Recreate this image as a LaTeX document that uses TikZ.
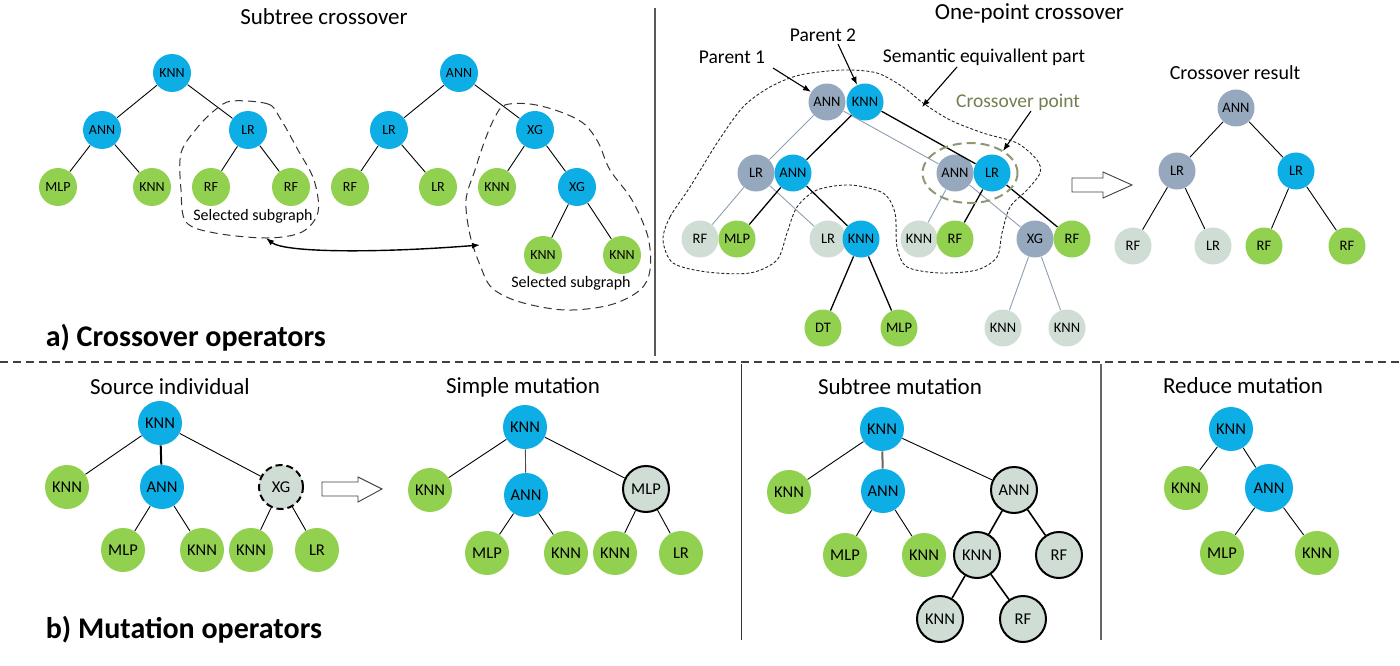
\documentclass[tikz,border=0pt]{standalone}
\usepackage{fontspec}
\setmainfont{Carlito}
\usetikzlibrary{arrows.meta,shapes.geometric}
\definecolor{nblue}{RGB}{13,174,230}
\definecolor{ngreen}{RGB}{146,208,80}
\definecolor{ngray}{RGB}{150,168,190}
\definecolor{nlight}{RGB}{207,221,213}
\definecolor{cpgreen}{RGB}{112,128,78}
\definecolor{p1line}{RGB}{140,158,178}
\tikzset{
    tl/.style={circle,inner sep=0pt,minimum size=38pt,font=\fontsize{14}{14}\selectfont},
    tr/.style={circle,inner sep=0pt,minimum size=37pt,font=\fontsize{14.5}{14.5}\selectfont},
    bt/.style={circle,inner sep=0pt,minimum size=44pt,font=\fontsize{16.5}{16.5}\selectfont},
    blu/.style={fill=nblue},
    grn/.style={fill=ngreen},
    gry/.style={fill=ngray},
    lgt/.style={fill=nlight},
    newnd/.style={fill=nlight,draw=black,line width=2pt,minimum size=46pt},
    ttl/.style={font=\fontsize{23}{23}\selectfont},
    note/.style={font=\fontsize{19.5}{19.5}\selectfont},
    hdr/.style={anchor=west,font=\fontsize{30}{30}\selectfont\bfseries},
    ptr/.style={-{Latex[length=8pt,width=6pt]},line width=1.1pt},
    fatln/.style={draw=black!75,fill=white,line width=0.9pt,line join=miter},
    sel/.style={draw=black!80,line width=1pt,dash pattern=on 8pt off 5pt},
}

\begin{document}
\begin{tikzpicture}[x=1pt,y=-1pt,line width=0.9pt]
\useasboundingbox (0,0) rectangle (1400,666);

%% frames
\draw[black!65,line width=1.4pt] (655,8) -- (655,356);
\draw[black!75,line width=1.2pt,dash pattern=on 8pt off 5pt] (0,362) -- (1400,362);
\draw[black!80,line width=1pt] (741,364) -- (741,640);
\draw[black!60,line width=1.6pt] (1101,364) -- (1101,640);
\node[hdr] (hda) at (42,338) {a) Crossover operators};
\node[hdr] (hdb) at (42,630) {b) Mutation operators};

%% subtree crossover
\node[ttl] (tsub) at (324,17) {Subtree crossover};
\node[tl,blu] (aknn) at (172,73) {KNN};
\node[tl,blu] (aann) at (102,130) {ANN};
\node[tl,blu] (alr) at (248,130) {LR};
\node[tl,grn] (amlp) at (58,187) {MLP};
\node[tl,grn] (aknn2) at (152,187) {KNN};
\node[tl,grn] (arf) at (211,187) {RF};
\node[tl,grn] (arf2) at (291,187) {RF};
\draw (aknn) -- (aann) (aknn) -- (alr) (aann) -- (amlp) (aann) -- (aknn2) (alr) -- (arf) (alr) -- (arf2);

\node[tl,blu] (bann) at (459,73) {ANN};
\node[tl,blu] (blr) at (389,130) {LR};
\node[tl,blu] (bxg) at (535,130) {XG};
\node[tl,grn] (brf) at (350,187) {RF};
\node[tl,grn] (blr2) at (438,187) {LR};
\node[tl,grn] (bknn) at (497,187) {KNN};
\node[tl,blu] (bxg2) at (577,187) {XG};
\node[tl,grn] (bknn2) at (543,255) {KNN};
\node[tl,grn] (bknn3) at (622,255) {KNN};
\draw (bann) -- (blr) (bann) -- (bxg) (blr) -- (brf) (blr) -- (blr2) (bxg) -- (bknn) (bxg) -- (bxg2)
      (bxg2) -- (bknn2) (bxg2) -- (bknn3);

\draw[sel] plot[smooth cycle,tension=0.55] coordinates {(232,101) (268,104) (280,118) (298,150) (314,180)
      (318,212) (302,232) (267,238) (215,233) (186,222) (181,190) (181,153) (197,128) (215,110)};
\draw[sel] plot[smooth cycle,tension=0.55] coordinates {(505,105) (530,104) (558,111) (583,123) (598,142) (610,170)
      (632,200) (648,237) (650,270) (640,290) (610,305) (565,310) (520,302) (492,288) (480,265) (470,235)
      (466,200) (475,170) (485,140) (495,117)};
\node[font=\fontsize{16}{16}\selectfont] (sela) at (253,216) {Selected subgraph};
\node[font=\fontsize{16}{16}\selectfont] (selb) at (571,283) {Selected subgraph};
\coordinate(sa) at (266,238);
\coordinate(sb) at (480,245);
\draw[{Latex[length=8pt,width=6pt]}-{Latex[length=8pt,width=6pt]},line width=1.4pt]
      (sa) .. controls (285,253) and (380,253) .. (sb);

%% one-point crossover
\node[ttl,anchor=west] (tone) at (931,13) {One-point crossover};
\node[note] (par1) at (732,57) {Parent 1};
\node[note] (par2) at (823,35) {Parent 2};
\node[note] (sem) at (984,57) {Semantic equivallent part};
\node[note,text=cpgreen] (cpt) at (1018,102) {Crossover point};

\node[tr,gry] (pann) at (827,102) {ANN};
\node[tr,blu] (pknn) at (865,102) {KNN};
\node[tr,gry] (plr) at (756,173) {LR};
\node[tr,blu] (pann2) at (793,173) {ANN};
\node[tr,gry] (qann) at (955,173) {ANN};
\node[tr,blu] (qlr) at (992,173) {LR};
\node[tr,lgt] (prf) at (700,239) {RF};
\node[tr,grn] (pmlp) at (737,239) {MLP};
\node[tr,lgt] (plr2) at (828,239) {LR};
\node[tr,blu] (pknn2) at (861,239) {KNN};
\node[tr,lgt] (qknn) at (919,239) {KNN};
\node[tr,grn] (qrf) at (955,239) {RF};
\node[tr,gry] (qxg) at (1035,239) {XG};
\node[tr,grn] (qrf2) at (1072,239) {RF};
\node[tr,grn] (pdt) at (823,328) {DT};
\node[tr,grn] (pmlp2) at (899,328) {MLP};
\node[tr,lgt] (qknn2) at (1003,328) {KNN};
\node[tr,lgt] (qknn3) at (1067,328) {KNN};
% parent 1
\draw[p1line,line width=0.9pt] (pann) -- (plr) (pann) -- (qann) (plr) -- (prf) (plr) -- (plr2)
      (qann) -- (qknn) (qann) -- (qxg) (qxg) -- (qknn2) (qxg) -- (qknn3);
% parent 2
\draw[line width=1.3pt] (pknn) -- (pann2) (pknn) -- (qlr) (pann2) -- (pmlp) (pann2) -- (pknn2)
      (pknn2) -- (pdt) (pknn2) -- (pmlp2) (qlr) -- (qrf) (qlr) -- (qrf2);

\node[ellipse,draw=cpgreen!80,line width=2pt,dash pattern=on 9pt off 5pt,minimum width=95pt,minimum height=60pt] (cpring) at (970,173) {};
\draw[black!85,line width=0.9pt,dash pattern=on 3pt off 2pt] plot[smooth cycle,tension=0.5] coordinates {
      (663,240) (670,217) (690,187) (717,143) (743,107) (770,87) (800,75) (843,70) (877,73) (903,87)
      (923,103) (950,120) (983,133) (1017,143) (1037,160) (1040,173) (1027,190) (1010,207) (1002,233)
      (997,257) (977,270) (940,273) (907,267) (897,247) (895,213) (883,193) (850,185) (817,190)
      (797,207) (787,233) (777,260) (750,273) (707,272) (673,263)};

\coordinate(p1s) at (773,68);
\coordinate(p2s) at (838,44);
\coordinate(sms) at (957,67);
\coordinate(sme) at (922,107);
\coordinate(cps) at (1031,111);
\coordinate(cpe) at (1003,151);
\draw[ptr] (p1s) -- (pann);
\draw[ptr] (p2s) -- (pknn);
\draw[ptr] (sms) -- (sme);
\draw[ptr] (cps) -- (cpe);

% hollow arrow
\draw[fatln] (1072,178) -- (1103,178) -- (1103,172) -- (1132,185) -- (1103,198) -- (1103,192) -- (1072,192) -- cycle;

%% crossover result
\node[ttl,font=\fontsize{20}{20}\selectfont] (tres) at (1235,73) {Crossover result};
\node[tr,gry] (rann) at (1236,108) {ANN};
\node[tr,gry] (rlr) at (1177,171) {LR};
\node[tr,blu] (rlr2) at (1296,171) {LR};
\node[tr,lgt] (rrf) at (1133,246) {RF};
\node[tr,lgt] (rlr3) at (1213,246) {LR};
\node[tr,grn] (rrf2) at (1264,246) {RF};
\node[tr,grn] (rrf3) at (1347,246) {RF};
\draw (rann) -- (rlr) (rann) -- (rlr2) (rlr) -- (rrf) (rlr) -- (rlr3) (rlr2) -- (rrf2) (rlr2) -- (rrf3);

%% source individual
\node[ttl] (tsrc) at (170,387) {Source individual};
\node[bt,blu] (sknn) at (160,423) {KNN};
\node[bt,grn] (sknn2) at (67,487) {KNN};
\node[bt,blu] (sann) at (162,487) {ANN};
\node[bt,lgt,draw=black,line width=2pt,dash pattern=on 7pt off 4pt] (sxg) at (281,487) {XG};
\node[bt,grn] (smlp) at (123,550) {MLP};
\node[bt,grn] (sknn3) at (202,550) {KNN};
\node[bt,grn] (sknn4) at (251,550) {KNN};
\node[bt,grn] (slr) at (317,550) {LR};
\draw (sknn) -- (sknn2) (sknn) -- (sxg) (sann) -- (smlp) (sann) -- (sknn3) (sxg) -- (sknn4) (sxg) -- (slr);
\draw[line width=2pt] (sknn) -- (sann);
\draw[fatln] (322,482) -- (358,482) -- (358,477) -- (382,489) -- (358,502) -- (358,496) -- (322,496) -- cycle;

%% simple mutation
\node[ttl] (tsim) at (523,387) {Simple mutation};
\node[bt,blu] (mknn) at (525,427) {KNN};
\node[bt,grn] (mknn2) at (430,490) {KNN};
\node[bt,blu] (mann) at (526,495) {ANN};
\node[bt,newnd] (mmlp) at (646,489) {MLP};
\node[bt,grn] (mmlp2) at (487,553) {MLP};
\node[bt,grn] (mknn3) at (566,553) {KNN};
\node[bt,grn] (mknn4) at (615,553) {KNN};
\node[bt,grn] (mlr) at (681,553) {LR};
\draw (mknn) -- (mknn2) (mknn) -- (mmlp) (mann) -- (mmlp2) (mann) -- (mknn3) (mmlp) -- (mknn4) (mmlp) -- (mlr);
\draw[black!70] (mknn) -- (mann);

%% subtree mutation
\node[ttl] (tstm) at (900,387) {Subtree mutation};
\node[bt,blu] (tknn) at (882,429) {KNN};
\node[bt,grn] (tknn2) at (789,492) {KNN};
\node[bt,blu] (tann) at (883,491) {ANN};
\node[bt,newnd] (tann2) at (1014,490) {ANN};
\node[bt,grn] (tmlp) at (845,555) {MLP};
\node[bt,grn] (tknn3) at (924,555) {KNN};
\node[bt,newnd] (tknn4) at (977,555) {KNN};
\node[bt,newnd] (trf) at (1059,555) {RF};
\node[bt,newnd] (tknn5) at (940,619) {KNN};
\node[bt,newnd] (trf2) at (1023,619) {RF};
\draw (tknn) -- (tknn2) (tknn) -- (tann2) (tann) -- (tmlp) (tann) -- (tknn3);
\draw[black!60,line width=2pt] (tknn) -- (tann);
\draw[line width=1.6pt] (tann2) -- (tknn4) (tann2) -- (trf) (tknn4) -- (tknn5) (tknn4) -- (trf2);

%% reduce mutation
\node[ttl] (tred) at (1243,386) {Reduce mutation};
\node[bt,blu] (uknn) at (1231,429) {KNN};
\node[bt,grn] (uknn2) at (1186,488) {KNN};
\node[bt,blu,minimum size=48pt] (uann) at (1269,488) {ANN};
\node[bt,grn] (umlp) at (1222,553) {MLP};
\node[bt,grn] (uknn3) at (1317,553) {KNN};
\draw (uknn) -- (uknn2) (uknn) -- (uann) (uann) -- (umlp) (uann) -- (uknn3);
\end{tikzpicture}
\end{document}
